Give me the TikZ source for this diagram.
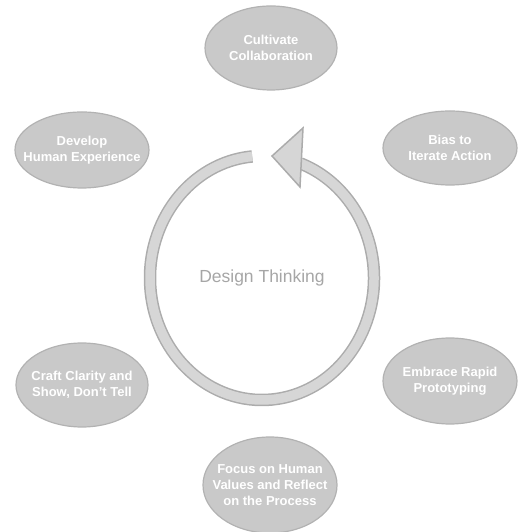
\documentclass[tikz,border=0pt]{standalone}
\usepackage{fontspec}
\setmainfont{Liberation Sans}
\usetikzlibrary{shapes.geometric,positioning}

\begin{document}
\begin{tikzpicture}[x=1pt,y=1pt,
  mindset/.style={ellipse, fill=gray!42, draw=gray!60, line width=1.2pt, inner ysep=0pt, inner xsep=-16pt,
    text=white, align=center, font=\fontsize{13}{16}\selectfont\bfseries},
  ring/.style={line width=12.5pt, draw=gray!65},
  ringfill/.style={line width=9.5pt, draw=gray!32}]
\useasboundingbox (0,0) rectangle (527,532);

% the six mindsets
\node [mindset, minimum width=132, minimum height=84] (collab) at (271,484) {Cultivate\\Collaboration};
\node [mindset, minimum width=134, minimum height=74] (action) at (450,384) {Bias to\\Iterate Action};
\node [mindset, minimum width=134, minimum height=76] (human) at (82,382) {Develop\\Human Experience};
\node [mindset, minimum width=132, minimum height=84] (clarity) at (82,147) {Craft Clarity and\\Show, Don't Tell};
\node [mindset, minimum width=134, minimum height=86] (proto) at (450,151) {Embrace Rapid\\Prototyping};
\node [mindset, minimum width=134, minimum height=96] (values) at (270,47) {Focus on Human\\Values and Reflect\\on the Process};

% cycle arrow
\coordinate (centre) at (262,254);
\draw [ring] (centre) ++(95:112 and 122) arc [start angle=95, end angle=430, x radius=112, y radius=122];
\draw [ringfill] (centre) ++(95:112 and 122) arc [start angle=95, end angle=431, x radius=112, y radius=122];
\coordinate (tip) at (272,376);
\coordinate (wingA) at (303,404);
\coordinate (wingB) at (300,345);
\filldraw [fill=gray!32, draw=gray!65, line width=1.5pt, line join=miter] (tip) -- (wingA) -- (wingB) -- cycle;

\node [text=gray!70, font=\fontsize{17.5}{20}\selectfont] (title) at (centre) {Design Thinking};

\end{tikzpicture}
\end{document}
